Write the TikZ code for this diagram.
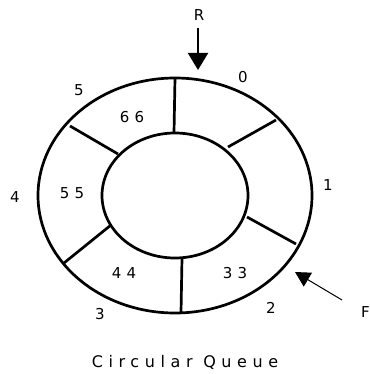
\documentclass[tikz,border=0pt]{standalone}
\usepackage{fontspec}
\setmainfont{DejaVu Sans}
\usetikzlibrary{arrows.meta}
\tikzset{
  ring/.style={line width=2.7pt},
  lbl/.style={inner sep=0pt, font=\fontsize{15}{17}\selectfont},
  val/.style={inner sep=0pt, font=\fontsize{15}{17}\selectfont\addfontfeature{LetterSpace=35}},
  ptr/.style={-{Triangle[width=20pt,length=17pt]}, line width=2pt},
}
\begin{document}
\begin{tikzpicture}[x=1pt,y=-1pt]
\useasboundingbox (0,0) rectangle (369,374);
\coordinate (c) at (175,195.5);
\draw[ring] (c) ellipse [x radius=137, y radius=117.5];
\draw[ring] (c) ellipse [x radius=73, y radius=62.5];
% radial separators
\coordinate (o0) at (175,78);  \coordinate (i0) at (174,133);
\coordinate (o1) at (276,120); \coordinate (i1) at (228,147);
\coordinate (o2) at (296,244); \coordinate (i2) at (247,217);
\coordinate (o3) at (181,313); \coordinate (i3) at (182,258);
\coordinate (o4) at (64,263);  \coordinate (i4) at (111,225);
\coordinate (o5) at (70,126);  \coordinate (i5) at (118,154);
\foreach \k in {0,...,5} \draw[ring] (o\k) -- (i\k);
% index labels
\node[lbl] (n0) at (243,77) {0};
\node[lbl] (n1) at (328,185) {1};
\node[lbl] (n2) at (271,308) {2};
\node[lbl] (n3) at (100,314) {3};
\node[lbl] (n4) at (15,197) {4};
\node[lbl] (n5) at (79,90) {5};
% values
\node[val] (v5) at (132,117) {66};
\node[val] (v4) at (72,193) {55};
\node[val] (v3) at (124,273) {44};
\node[val] (v2) at (235,273) {33};
% pointers
\node[lbl] (R) at (199,15) {R};
\coordinate (Rs) at (198,28);
\coordinate (Rt) at (198,70);
\draw[ptr] (Rs) -- (Rt);
\node[lbl, anchor=west] (F) at (361,312) {F};
\coordinate (Fs) at (342,300);
\coordinate (Ft) at (295,272);
\draw[-{Triangle[width=16pt,length=15pt]}, line width=1pt] (Fs) -- (Ft);
% title
\node[inner sep=0pt, font=\fontsize{16}{18}\selectfont\addfontfeature{LetterSpace=35}] (title) at (185,362) {Circular Queue};
\end{tikzpicture}
\end{document}
